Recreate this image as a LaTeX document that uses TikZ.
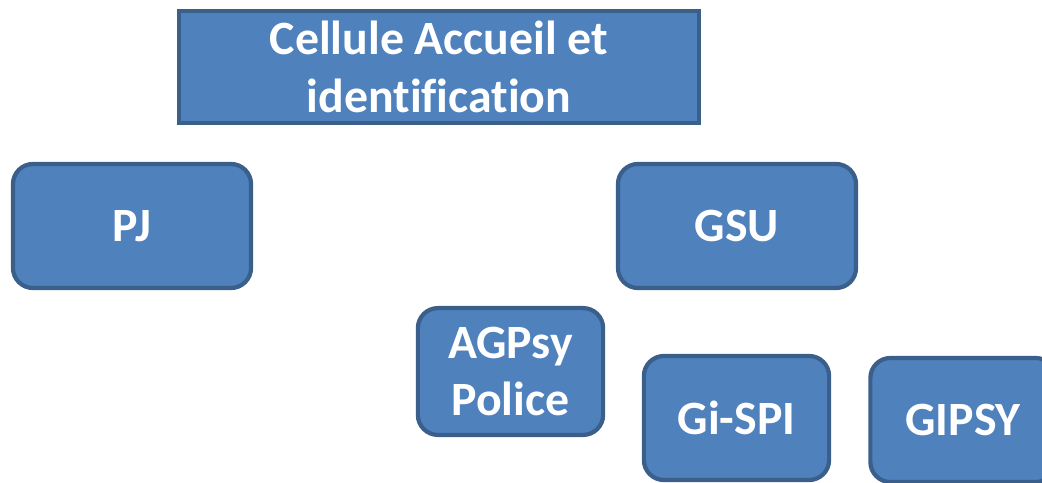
\documentclass[tikz,border=0pt]{standalone}
\usepackage{fontspec}
\setmainfont[Ligatures=NoCommon]{Carlito}
\usepackage{tikz}
\usepackage{xcolor}
\definecolor{boxfill}{HTML}{4F81BD}
\definecolor{boxline}{HTML}{3A5F8B}

\tikzset{
  unit/.style={draw=boxline, line width=3pt, fill=boxfill, text=white, align=center,
    font=\bfseries\fontsize{34}{41}\selectfont, inner sep=0pt},
  roundunit/.style={unit, rounded corners=0.5cm}
}

\begin{document}
\begin{tikzpicture}[x=0.025cm, y=-0.025cm]
      \useasboundingbox (0,0) rectangle (1042,482);
      \node [unit, minimum width=13cm, minimum height=2.78cm] (cellule) at (439,67) {Cellule Accueil et\\identification};
      \node [roundunit, minimum width=5.95cm, minimum height=3.1cm] (pj) at (132,226) {PJ};
      \node [roundunit, minimum width=5.95cm, minimum height=3.1cm] (gsu) at (737,226) {GSU};
      \node [roundunit, minimum width=4.63cm, minimum height=3.17cm] (agpsy) at (510.5,371.5) {AGPsy\\Police};
      \node [roundunit, minimum width=4.63cm, minimum height=3.1cm] (gispi) at (736.5,418) {Gi-SPI};
      \node [roundunit, minimum width=4.63cm, minimum height=3.1cm] (gipsy) at (963,420) {GIPSY};
    \end{tikzpicture}
\end{document}
